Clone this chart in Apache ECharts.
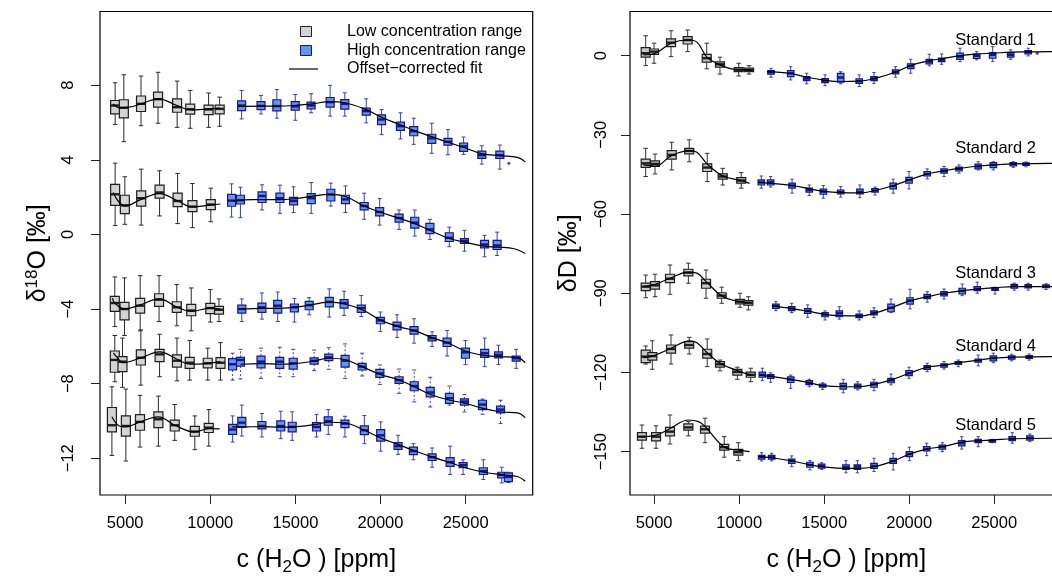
<!DOCTYPE html>
<html>
<head>
<meta charset="utf-8">
<script src="https://cdn.jsdelivr.net/npm/echarts@6/dist/echarts.min.js"></script>
<style>
  html, body { margin: 0; padding: 0; background: #fff; }
  #chart { width: 1052px; height: 576px; }
</style>
</head>
<body>
<div id="chart"></div>
<script>
// box rows: [c(H2O) ppm, lower whisker, Q1, median, Q3, upper whisker]
// ---- delta 18O panel ----
const d18oLow1 = [[4410,5.89,6.46,6.91,7.18,8.13],[4920,4.97,6.25,6.79,7.22,8.56],[5930,5.83,6.59,7.00,7.42,8.49],[6930,5.96,6.82,7.25,7.63,8.69],[8050,5.74,6.55,6.82,7.27,8.22],[8820,5.69,6.45,6.71,6.98,7.72],[9900,5.74,6.42,6.70,6.93,7.58],[10550,5.80,6.46,6.73,6.93,7.36]]
const d18oHigh1 = [[11840,6.19,6.64,6.91,7.16,7.72],[12980,6.46,6.69,6.89,7.12,7.45],[13910,6.23,6.62,6.88,7.22,7.77],[14990,6.12,6.66,6.86,7.12,7.50],[15920,6.52,6.73,6.91,7.09,7.54],[17040,6.34,6.82,7.09,7.34,7.99],[17900,6.34,6.72,7.00,7.23,7.59],[19160,5.98,6.39,6.61,6.77,7.27],[20060,5.35,5.89,6.16,6.41,6.69],[21170,5.12,5.58,5.80,6.02,6.52],[21950,4.83,5.29,5.53,5.78,6.23],[23010,4.35,4.88,5.15,5.37,5.96],[23960,4.27,4.79,4.97,5.15,5.62],[24880,4.29,4.45,4.72,4.90,5.22],[25950,3.77,4.08,4.25,4.47,4.75],[27010,3.50,4.08,4.25,4.47,4.79]]
const d18oLow2 = [[4410,0.48,1.56,2.15,2.68,3.82],[4980,0.54,1.11,1.56,2.10,3.09],[5940,0.50,1.52,1.94,2.33,3.50],[7020,0.99,1.94,2.25,2.64,3.41],[8080,0.58,1.49,1.79,2.21,3.27],[8950,0.36,1.22,1.49,1.81,2.73],[10030,0.68,1.33,1.60,1.87,2.48]]
const d18oHigh2 = [[11250,0.93,1.51,1.81,2.15,2.71],[11770,0.90,1.63,1.83,2.10,2.53],[13040,1.31,1.71,2.06,2.28,2.66],[14090,1.13,1.71,1.94,2.21,2.64],[14890,1.17,1.58,1.79,1.99,2.55],[15930,1.13,1.65,1.94,2.19,2.78],[17080,1.52,1.79,2.14,2.42,2.75],[17940,1.17,1.65,1.88,2.10,2.60],[19040,0.81,1.31,1.52,1.71,2.21],[19950,0.50,0.99,1.20,1.44,1.92],[21090,0.27,0.66,0.88,1.09,1.31],[22010,-0.09,0.34,0.63,0.92,1.31],[22900,-0.27,0.04,0.27,0.59,0.81],[24040,-0.66,-0.38,-0.18,0.09,0.39],[24930,-0.90,-0.48,-0.34,-0.22,0.22],[26110,-1.20,-0.72,-0.54,-0.32,-0.05],[26850,-1.13,-0.81,-0.59,-0.32,0.12]]
const d18oLow3 = [[4390,-4.94,-4.13,-3.68,-3.32,-2.28],[4960,-5.42,-4.58,-4.00,-3.64,-2.33],[5880,-5.17,-4.22,-3.82,-3.43,-2.21],[6990,-4.67,-3.86,-3.50,-3.18,-2.21],[8030,-4.90,-4.18,-3.91,-3.61,-2.69],[8880,-5.17,-4.36,-4.08,-3.75,-2.87],[10000,-4.70,-4.25,-3.95,-3.70,-2.96],[10510,-4.67,-4.27,-4.04,-3.86,-3.46]]
const d18oHigh3 = [[11850,-4.67,-4.22,-4.00,-3.79,-3.46],[13030,-4.54,-4.18,-3.91,-3.68,-3.14],[13960,-4.67,-4.22,-3.82,-3.54,-3.09],[14940,-4.70,-4.15,-3.91,-3.73,-3.43],[15810,-4.31,-4.04,-3.79,-3.59,-3.39],[16990,-4.43,-3.89,-3.62,-3.38,-2.92],[17860,-4.35,-3.95,-3.68,-3.50,-3.05],[18870,-4.40,-4.18,-3.95,-3.79,-3.28],[19990,-5.21,-4.79,-4.61,-4.45,-4.16],[20970,-5.53,-5.12,-4.90,-4.70,-4.31],[21970,-5.83,-5.35,-5.15,-4.94,-4.52],[23030,-6.01,-5.71,-5.56,-5.42,-5.22],[23910,-6.52,-6.01,-5.80,-5.56,-5.15],[24990,-6.98,-6.64,-6.32,-6.10,-5.69],[26120,-7.09,-6.59,-6.37,-6.16,-5.56],[26930,-6.98,-6.62,-6.46,-6.30,-5.94],[27970,-7.18,-6.79,-6.64,-6.52,-6.16]]
const d18oLow4 = [[4390,-7.90,-7.39,-6.73,-6.25,-5.42],[4840,-8.20,-7.36,-6.82,-6.55,-5.56],[5920,-8.08,-7.00,-6.61,-6.19,-5.12],[7020,-7.63,-6.82,-6.43,-6.16,-5.35],[8040,-7.85,-7.12,-6.77,-6.46,-5.56],[8790,-7.81,-7.18,-6.88,-6.59,-5.69],[9850,-7.81,-7.15,-6.91,-6.64,-6.10],[10600,-7.81,-7.18,-6.88,-6.61,-5.80]]
const d18oHigh4 = [[11310,-7.81,-7.27,-6.96,-6.66,-6.37],[11770,-7.75,-7.06,-6.73,-6.59,-6.16],[12980,-7.72,-7.15,-6.82,-6.52,-6.10],[14080,-7.63,-7.18,-6.82,-6.59,-6.05],[14870,-7.63,-7.22,-6.91,-6.64,-6.16],[16100,-7.30,-6.95,-6.78,-6.62,-6.20],[16960,-7.23,-6.77,-6.59,-6.42,-6.07],[17920,-7.72,-7.12,-6.77,-6.48,-5.87],[18920,-7.59,-7.27,-7.09,-6.91,-6.37],[19960,-8.04,-7.66,-7.45,-7.23,-7.00],[21090,-8.52,-7.99,-7.81,-7.63,-7.22],[21980,-8.98,-8.38,-8.13,-7.90,-7.27],[22920,-9.25,-8.71,-8.47,-8.20,-7.66],[24050,-9.15,-9.06,-8.78,-8.52,-8.13],[24930,-9.52,-9.15,-8.96,-8.82,-8.58],[25990,-9.64,-9.39,-9.12,-8.89,-8.83],[27050,-10.14,-9.57,-9.39,-9.21,-8.89]]
const d18oLow5 = [[4220,-11.85,-10.59,-10.23,-9.28,-8.17],[5040,-12.15,-10.81,-10.27,-9.73,-8.29],[5870,-11.40,-10.50,-10.05,-9.66,-8.63],[6950,-11.35,-10.36,-9.91,-9.51,-8.67],[7910,-11.04,-10.54,-10.23,-9.96,-9.12],[9090,-11.54,-10.82,-10.57,-10.29,-9.73],[9910,-11.35,-10.62,-10.36,-10.13,-9.39]]
const d18oHigh5 = [[11310,-11.13,-10.72,-10.46,-10.18,-9.73],[11850,-10.81,-10.35,-10.09,-9.81,-9.15],[13030,-10.86,-10.43,-10.27,-10.03,-9.60],[14140,-10.95,-10.54,-10.27,-10.00,-9.48],[14810,-11.04,-10.59,-10.32,-10.07,-9.51],[16240,-10.86,-10.54,-10.32,-10.09,-9.65],[16930,-10.72,-10.23,-10.00,-9.78,-9.39],[17910,-10.86,-10.36,-10.14,-9.96,-9.75],[19050,-11.22,-10.73,-10.50,-10.26,-9.71],[20010,-11.62,-11.08,-10.77,-10.46,-10.05],[21030,-11.79,-11.52,-11.35,-11.16,-10.77],[21930,-12.08,-11.81,-11.62,-11.40,-11.22],[23030,-12.48,-12.12,-11.94,-11.76,-11.45],[24090,-12.87,-12.44,-12.21,-11.97,-11.35],[24850,-12.87,-12.51,-12.37,-12.23,-12.08],[26040,-13.14,-12.87,-12.69,-12.51,-12.08],[27120,-13.32,-13.05,-12.89,-12.75,-12.48],[27510,-13.30,-13.25,-13.00,-12.78,-12.75]]
const d18oOutliers = [[27540,3.82]]

// fitted curves: [ppm, value]
const d18oFitLow1 = [[4290,7.0],[4650,6.79],[5240,6.82],[5930,7.0],[6930,7.27],[8050,6.91],[8820,6.68],[9900,6.73],[10550,6.77]]
const d18oFitHigh1 = [[11630,6.86],[13000,6.88],[14000,6.88],[15000,6.92],[16000,7.0],[17000,7.12],[17900,7.06],[19160,6.69],[20060,6.28],[21170,5.87],[21950,5.58],[23010,5.24],[23960,4.94],[24880,4.67],[25950,4.33],[27010,4.22],[28050,4.13],[28500,3.89]]
const d18oFitLow2 = [[4290,2.25],[4650,1.71],[4980,1.52],[5940,1.88],[7020,2.19],[8090,1.79],[8950,1.47],[10030,1.58],[10590,1.63]]
const d18oFitHigh2 = [[11330,1.80],[12500,1.86],[14000,1.86],[15000,1.92],[16000,2.05],[17000,2.15],[17940,2.03],[19040,1.52],[19950,1.2],[21090,0.86],[22010,0.58],[22900,0.22],[24040,-0.22],[24930,-0.41],[26110,-0.63],[26860,-0.68],[27860,-0.77],[28510,-1.02]]
const d18oFitLow3 = [[4250,-3.41],[4390,-3.68],[4960,-4.0],[5890,-3.77],[6990,-3.46],[8030,-3.89],[8880,-4.13],[10000,-3.95],[10590,-4.0]]
const d18oFitHigh3 = [[11830,-4.0],[13090,-3.96],[14010,-3.96],[14990,-3.9],[15860,-3.79],[16450,-3.68],[17040,-3.63],[17900,-3.73],[18920,-4.04],[20050,-4.61],[21030,-4.94],[22040,-5.17],[23100,-5.56],[23980,-5.83],[25060,-6.28],[26200,-6.5],[27010,-6.55],[28050,-6.61],[28500,-6.88]]
const d18oFitLow4 = [[4310,-6.37],[4650,-6.73],[4840,-6.88],[5930,-6.61],[7020,-6.3],[8050,-6.69],[8790,-6.96],[9860,-6.91],[10600,-6.82]]
const d18oFitHigh4 = [[11770,-6.96],[12990,-6.93],[14090,-6.96],[14870,-6.94],[16110,-6.79],[16950,-6.64],[17920,-6.72],[18920,-7.09],[19970,-7.5],[21110,-7.81],[21990,-8.17],[22940,-8.58],[24080,-8.89],[24960,-9.05],[26020,-9.33],[27090,-9.52],[28050,-9.57],[28500,-9.82]]
const d18oFitLow5 = [[4220,-9.78],[4650,-10.27],[5040,-10.32],[5870,-10.05],[6950,-9.78],[7910,-10.23],[9090,-10.59],[9920,-10.41],[10550,-10.43]]
const d18oFitHigh5 = [[11290,-10.32],[11840,-10.32],[13020,-10.3],[14140,-10.33],[14810,-10.32],[16250,-10.18],[16940,-10.07],[17920,-10.11],[19060,-10.5],[20030,-10.92],[21050,-11.27],[21950,-11.58],[23060,-11.94],[24120,-12.24],[24880,-12.48],[26080,-12.75],[27170,-12.89],[28050,-12.98],[28500,-13.23]]

// ---- delta D panel ----
const ddLow1 = [[4500,-3.8,-0.6,0.9,3.0,7.5],[4990,-2.9,0.5,1.5,2.5,4.7],[5990,-0.4,3.4,4.9,6.3,9.4],[6970,1.5,4.4,5.9,7.2,9.7],[8090,-5.0,-2.5,-1.0,0.5,4.7],[8870,-7.0,-4.4,-3.3,-2.4,-0.6],[9970,-7.7,-6.1,-5.3,-4.5,-2.9],[10580,-7.0,-6.1,-5.4,-4.7,-3.8]]
const ddHigh1 = [[11870,-8.2,-7.0,-6.3,-5.7,-4.8],[13030,-9.2,-8.0,-6.7,-5.7,-4.2],[13970,-10.7,-9.5,-8.7,-8.0,-6.7],[15050,-11.4,-10.2,-9.5,-8.7,-7.3],[15970,-10.7,-10.1,-8.3,-6.7,-6.1],[17060,-11.7,-10.5,-9.7,-8.8,-7.3],[17930,-10.5,-9.5,-8.7,-8.0,-6.4],[19200,-8.2,-6.9,-6.2,-5.4,-4.2],[20090,-6.7,-4.9,-4.0,-3.1,-1.4],[21180,-3.9,-3.1,-2.3,-1.4,0.5],[21910,-3.3,-2.3,-1.6,-0.9,0.6],[22990,-2.3,-1.4,-0.4,0.9,2.8],[23970,-1.6,-1.1,-0.1,0.6,1.5],[24910,-2.3,-1.0,0.3,1.1,3.4],[25970,-1.4,-0.6,0.3,1.1,2.2],[27000,-0.1,0.6,1.3,1.9,2.8]]
const ddLow2 = [[4500,-45.8,-42.3,-40.8,-39.2,-35.1],[5050,-44.8,-42.0,-41.0,-39.9,-37.3],[6030,-43.3,-39.2,-37.6,-36.0,-32.8],[7060,-40.2,-37.2,-36.1,-35.1,-31.9],[8120,-47.7,-43.9,-42.4,-41.0,-37.0],[9030,-49.0,-46.8,-45.8,-44.8,-42.7],[10120,-50.2,-48.3,-47.3,-46.2,-44.3]]
const ddHigh2 = [[11300,-50.2,-49.0,-48.0,-47.1,-45.6],[11850,-49.8,-49.0,-48.0,-47.1,-45.8],[13110,-52.1,-50.2,-49.2,-48.3,-46.8],[14120,-53.0,-51.7,-50.9,-50.2,-49.0],[14950,-54.0,-52.5,-51.5,-50.6,-49.2],[15970,-53.6,-52.4,-51.6,-50.9,-49.6],[17100,-53.8,-52.4,-51.6,-50.6,-49.0],[17990,-52.8,-51.7,-51.1,-50.4,-49.8],[19060,-52.1,-50.5,-49.4,-48.3,-46.8],[19990,-50.5,-48.3,-47.1,-46.1,-43.9],[21060,-46.7,-45.6,-44.8,-43.9,-42.9],[22050,-45.8,-44.5,-43.7,-42.9,-42.0],[22930,-44.5,-43.7,-42.9,-42.2,-41.4],[24060,-43.3,-42.9,-42.0,-41.1,-40.2],[24950,-43.3,-42.4,-41.4,-40.5,-40.2],[26120,-42.3,-41.8,-41.1,-40.5,-40.2],[26870,-42.1,-41.6,-41.1,-40.6,-40.3]]
const ddLow3 = [[4500,-91.7,-89.0,-87.5,-86.2,-83.1],[5050,-91.3,-88.4,-87.0,-85.6,-82.8],[5930,-90.4,-86.0,-84.5,-82.8,-79.3],[7010,-86.2,-83.4,-82.2,-80.9,-78.6],[8050,-91.9,-88.1,-86.2,-84.7,-81.2],[8970,-93.8,-91.9,-90.9,-89.8,-87.7],[10050,-95.3,-94.0,-93.2,-92.3,-90.0],[10540,-96.3,-94.5,-93.6,-92.8,-91.3]]
const ddHigh3 = [[12160,-96.6,-95.7,-94.8,-94.1,-93.2],[13090,-97.3,-96.6,-95.8,-95.1,-93.8],[14030,-99.1,-97.6,-96.7,-95.8,-94.4],[15050,-100.1,-98.9,-98.1,-97.3,-96.7],[15890,-99.8,-98.9,-97.6,-96.7,-95.1],[17060,-100.1,-99.2,-98.5,-97.9,-96.7],[17930,-99.2,-98.2,-97.3,-96.7,-95.5],[18930,-97.3,-97.0,-95.5,-94.1,-92.2],[20050,-95.9,-94.1,-92.8,-91.7,-88.5],[21060,-93.4,-92.0,-91.3,-90.4,-89.4],[22050,-92.2,-91.0,-90.2,-89.4,-88.4],[23120,-90.9,-90.2,-89.1,-88.1,-86.5],[24000,-90.0,-89.0,-88.3,-87.5,-85.8],[25050,-90.3,-88.9,-88.4,-87.9,-87.7],[26180,-88.8,-88.1,-87.3,-86.6,-86.2],[27000,-88.8,-88.0,-87.3,-86.7,-86.2],[28050,-88.6,-87.9,-87.3,-86.8,-86.4]]
const ddLow4 = [[4500,-116.8,-116.3,-114.0,-111.5,-110.0],[4890,-118.8,-115.3,-113.8,-112.5,-108.0],[5990,-116.8,-112.7,-111.1,-109.6,-105.8],[7060,-113.0,-110.8,-109.6,-108.3,-106.7],[8120,-117.8,-114.6,-113.0,-111.2,-107.3],[8870,-119.4,-118.0,-116.9,-115.9,-115.3],[9890,-122.6,-121.0,-119.8,-118.8,-118.0],[10680,-123.5,-121.8,-120.9,-119.9,-118.4]]
const ddHigh4 = [[11360,-123.1,-121.8,-120.9,-119.9,-118.4],[11850,-123.7,-122.2,-121.4,-120.8,-120.1],[13030,-126.0,-123.8,-122.7,-121.7,-121.0],[14120,-125.4,-124.6,-123.9,-123.1,-122.6],[14910,-126.4,-125.6,-125.0,-124.4,-123.9],[16120,-127.7,-126.3,-125.1,-124.1,-122.6],[16970,-126.6,-125.9,-125.1,-124.4,-123.5],[17930,-126.9,-125.6,-124.5,-123.7,-122.6],[18930,-124.7,-123.9,-123.0,-122.2,-120.6],[19990,-122.2,-121.2,-120.3,-119.3,-118.0],[21060,-119.7,-118.8,-118.0,-117.4,-116.5],[22050,-118.7,-118.0,-117.3,-116.7,-115.9],[22890,-117.8,-116.9,-116.3,-115.9,-115.3],[24060,-117.5,-116.1,-115.5,-114.9,-113.4],[24950,-116.3,-115.6,-114.6,-113.7,-112.7],[26030,-115.6,-115.0,-114.4,-113.7,-113.1],[27060,-115.3,-114.7,-114.1,-113.6,-113.0]]
const ddLow5 = [[4280,-148.7,-145.6,-144.3,-142.8,-139.9],[5110,-148.7,-145.9,-144.3,-142.8,-140.2],[5930,-147.1,-144.0,-142.4,-140.8,-136.1],[7010,-144.0,-141.8,-140.8,-139.5,-138.6],[7990,-146.6,-143.0,-141.5,-140.3,-137.3],[9120,-152.1,-149.4,-148.3,-147.2,-144.3],[9950,-153.4,-151.3,-150.2,-149.1,-146.6]]
const ddHigh5 = [[11320,-153.5,-152.8,-152.0,-151.4,-150.4],[11910,-153.5,-152.8,-152.1,-151.4,-150.6],[13090,-155.7,-154.4,-153.5,-152.8,-151.6],[14160,-156.9,-155.9,-155.0,-154.0,-153.4],[14850,-156.7,-156.2,-155.4,-154.7,-154.2],[16280,-158.0,-156.7,-155.9,-155.0,-153.4],[16950,-158.0,-156.7,-155.6,-155.0,-153.4],[17930,-157.5,-156.3,-155.4,-154.4,-152.5],[19060,-156.9,-154.4,-153.5,-152.5,-150.6],[20010,-153.4,-151.9,-150.9,-150.0,-148.3],[21030,-151.5,-149.7,-149.0,-148.1,-146.8],[21950,-150.0,-149.0,-148.1,-147.5,-146.6],[23090,-149.0,-147.8,-146.8,-145.8,-144.3],[24060,-148.1,-146.6,-145.9,-145.3,-144.3],[24890,-146.6,-146.4,-145.9,-145.5,-145.3],[26060,-146.8,-145.8,-145.1,-144.3,-142.8],[27100,-146.2,-145.6,-144.8,-144.0,-143.3]]
const ddOutliers = [[27530,0.9]]

const ddFitLow1 = [[4370,0.3],[5060,0.9],[6000,4.7],[6980,5.9],[7510,5.1],[8100,-0.6],[8880,-3.5],[9980,-5.4],[10750,-5.4]]
const ddFitHigh1 = [[11630,-6.1],[13040,-6.8],[14000,-8.2],[15000,-9.3],[16000,-9.8],[17000,-9.7],[17940,-8.7],[19220,-6.2],[20100,-3.7],[21190,-1.9],[21920,-1.2],[23000,0],[23980,0.6],[24920,0.9],[25980,1.3],[27020,1.4],[28290,1.5],[29100,1.5]]
const ddFitLow2 = [[4370,-41.4],[5060,-41.8],[6040,-37.8],[7080,-36.0],[7510,-36.6],[8140,-41.2],[9040,-45.6],[10140,-47.4],[10610,-48.4]]
const ddFitHigh2 = [[11140,-48.0],[13120,-49.2],[14140,-50.5],[14960,-51.4],[15980,-51.9],[17120,-52.0],[18000,-51.1],[19080,-49.2],[20000,-47.1],[21080,-44.8],[22060,-43.6],[22940,-42.7],[24080,-41.8],[24960,-41.4],[26140,-41.0],[28290,-40.8],[29100,-40.8]]
const ddFitLow3 = [[4370,-87.5],[5060,-86.6],[5940,-84.3],[7020,-82.0],[7510,-82.4],[8060,-85.6],[8980,-91.0],[10060,-93.2],[10610,-93.6]]
const ddFitHigh3 = [[11920,-94.8],[13100,-95.8],[14040,-96.8],[15060,-98.0],[15900,-98.5],[17080,-98.6],[17940,-97.6],[18940,-95.5],[20060,-92.8],[21080,-91.3],[22060,-90.0],[23140,-89.0],[24020,-88.4],[25060,-87.9],[26190,-87.5],[28290,-87.5],[29100,-87.5]]
const ddFitLow4 = [[4370,-114.4],[4900,-113.8],[6000,-110.8],[7080,-108.0],[7510,-108.7],[8140,-112.7],[8880,-116.5],[9900,-119.3],[10690,-121.0]]
const ddFitHigh4 = [[11190,-121.0],[11860,-121.5],[13040,-122.6],[14140,-123.9],[14920,-125.0],[16140,-125.4],[16980,-125.4],[17940,-124.5],[18940,-122.8],[20000,-120.3],[21080,-118.0],[22060,-117.2],[22900,-116.3],[24080,-115.3],[24960,-114.6],[26040,-114.2],[28290,-114.0],[29100,-114.0]]
const ddFitLow5 = [[4140,-144.3],[5120,-143.7],[5940,-141.2],[7020,-138.0],[7610,-138.6],[8000,-140.5],[9140,-148.3],[9960,-149.4],[10610,-150.0]]
const ddFitHigh5 = [[11140,-151.9],[11920,-152.3],[13100,-153.5],[14180,-155.0],[14860,-155.7],[16290,-156.3],[16960,-156.3],[17940,-155.7],[19080,-153.5],[20020,-150.9],[21040,-149.0],[21960,-148.1],[23100,-146.4],[24080,-145.8],[24900,-145.6],[26080,-145.1],[28290,-144.9],[29100,-144.9]]

const xTicks = [5000, 10000, 15000, 20000, 25000]
const d18oTicks = [-12, -8, -4, 0, 4, 8]
const ddTicks = [-150, -120, -90, -60, -30, 0]
const standardNames = ['Standard 1', 'Standard 2', 'Standard 3', 'Standard 4', 'Standard 5']
const legendNames = ['Low concentration range', 'High concentration range', 'Offset\u2212corrected fit']

const FONT = '"Liberation Sans", Arial, Helvetica, sans-serif'
const minus = v => String(v).replace('-', '\u2212')

// looks
const lowL = { fill: '#d3d3d3', edge: '#1e1e1e', whisker: '#2a2a2a', w: 9 }
const highL = { fill: '#6495ed', edge: '#16168a', whisker: '#3344bb', w: 8 }
const lowR = { fill: '#c8c8c8', edge: '#1e1e1e', whisker: '#333333', w: 9 }
const highR = { fill: '#6495ed', edge: '#16168a', whisker: '#3344bb', w: 6.5 }

function drawBox(api, look) {
  const x = api.value(0)
  const lo = api.coord([x, api.value(1)])
  const q1 = api.coord([x, api.value(2)])
  const md = api.coord([x, api.value(3)])
  const q3 = api.coord([x, api.value(4)])
  const hi = api.coord([x, api.value(5)])
  const cx = md[0]
  const hw = look.w / 2
  const cap = look.w / 4
  const wStyle = { stroke: look.whisker, lineWidth: 1, lineDash: look.dash || null }
  const cStyle = { stroke: look.whisker, lineWidth: 1 }
  return {
    type: 'group',
    children: [
      { type: 'line', shape: { x1: cx, y1: q1[1], x2: cx, y2: lo[1] }, style: wStyle },
      { type: 'line', shape: { x1: cx, y1: q3[1], x2: cx, y2: hi[1] }, style: wStyle },
      { type: 'line', shape: { x1: cx - cap, y1: lo[1], x2: cx + cap, y2: lo[1] }, style: cStyle },
      { type: 'line', shape: { x1: cx - cap, y1: hi[1], x2: cx + cap, y2: hi[1] }, style: cStyle },
      { type: 'rect', shape: { x: cx - hw, y: q3[1], width: look.w, height: q1[1] - q3[1] },
        style: { fill: look.fill, stroke: look.edge, lineWidth: 1.2 } },
      { type: 'line', shape: { x1: cx - hw, y1: md[1], x2: cx + hw, y2: md[1] },
        style: { stroke: look.edge, lineWidth: 2.4 } }
    ]
  }
}

function boxSeries(data, idx, look) {
  return {
    type: 'custom', xAxisIndex: idx, yAxisIndex: idx, data: data,
    encode: { x: 0, y: [1, 2, 3, 4, 5] }, silent: true, z: 2,
    renderItem: (params, api) => drawBox(api, look)
  }
}

function fitSeries(data, idx) {
  return {
    type: 'line', xAxisIndex: idx, yAxisIndex: idx, data: data,
    showSymbol: false, smooth: 0.4, silent: true, z: 5,
    lineStyle: { color: '#000', width: 1.2 }
  }
}

const series = []
;[d18oLow1, d18oLow2, d18oLow3, d18oLow4, d18oLow5].forEach(d => series.push(boxSeries(d, 0, lowL)))
;[d18oHigh1, d18oHigh2, d18oHigh3, d18oHigh5].forEach(d => series.push(boxSeries(d, 0, highL)))
series.push(boxSeries(d18oHigh4, 0, Object.assign({}, highL, { dash: [2, 2] })))
;[ddLow1, ddLow2, ddLow3, ddLow4, ddLow5].forEach(d => series.push(boxSeries(d, 1, lowR)))
;[ddHigh1, ddHigh2, ddHigh3, ddHigh4, ddHigh5].forEach(d => series.push(boxSeries(d, 1, highR)))
;[d18oFitLow1, d18oFitHigh1, d18oFitLow2, d18oFitHigh2, d18oFitLow3, d18oFitHigh3,
  d18oFitLow4, d18oFitHigh4, d18oFitLow5, d18oFitHigh5].forEach(d => series.push(fitSeries(d, 0)))
;[ddFitLow1, ddFitHigh1, ddFitLow2, ddFitHigh2, ddFitLow3, ddFitHigh3,
  ddFitLow4, ddFitHigh4, ddFitLow5, ddFitHigh5].forEach(d => series.push(fitSeries(d, 1)))
series.push({ type: 'scatter', xAxisIndex: 0, yAxisIndex: 0, data: d18oOutliers, symbolSize: 3,
  itemStyle: { color: '#16168a' }, silent: true, z: 4 })
series.push({ type: 'scatter', xAxisIndex: 1, yAxisIndex: 1, data: ddOutliers, symbolSize: 3,
  itemStyle: { color: '#16168a' }, silent: true, z: 4 })

function xAxisOpt(idx, min, max) {
  return {
    type: 'value', gridIndex: idx, min: min, max: max, position: 'bottom',
    name: '{a|c (H}{s|2}{a|O ) [ppm]}', nameLocation: 'middle', nameGap: 50,
    nameTextStyle: { rich: {
      a: { fontSize: 25, fontFamily: FONT, color: '#000' },
      s: { fontSize: 17, fontFamily: FONT, color: '#000', verticalAlign: 'bottom', padding: [14, 0, 0, 0] }
    } },
    axisLine: { show: false, onZero: false },
    axisTick: { show: true, length: 9, interval: 0, customValues: xTicks, lineStyle: { color: '#222' } },
    axisLabel: { customValues: xTicks, interval: 0, fontSize: 16.5, fontFamily: FONT, color: '#000', margin: 20,
      formatter: v => String(v) },
    splitLine: { show: false }
  }
}

function yAxisOpt(idx, min, max, ticks, name, gap, margin) {
  return {
    type: 'value', gridIndex: idx, min: min, max: max, position: 'left',
    name: name, nameLocation: 'middle', nameRotate: 90, nameGap: gap,
    nameTextStyle: { rich: {
      a: { fontSize: 25, fontFamily: FONT, color: '#000' },
      s: { fontSize: 17, fontFamily: FONT, color: '#000', verticalAlign: 'top', padding: [0, 0, 12, 0] }
    } },
    axisLine: { show: false, onZero: false },
    axisTick: { show: true, length: 9, interval: 0, customValues: ticks, lineStyle: { color: '#222' } },
    axisLabel: { customValues: ticks, interval: 0, rotate: 90, fontSize: 16.5, fontFamily: FONT, color: '#000',
      margin: margin, formatter: minus },
    splitLine: { show: false }
  }
}

const legendGraphic = [
  { type: 'rect', left: 300, top: 26, shape: { width: 11, height: 10 },
    style: { fill: '#d3d3d3', stroke: '#222', lineWidth: 1 } },
  { type: 'rect', left: 300, top: 45, shape: { width: 11, height: 10 },
    style: { fill: '#6495ed', stroke: '#16168a', lineWidth: 1 } },
  { type: 'line', shape: { x1: 289, y1: 69, x2: 318, y2: 69 }, style: { stroke: '#000', lineWidth: 1.2 } }
].concat(legendNames.map((t, i) => ({
  type: 'text', x: 347, y: 31.5 + i * 18.7,
  style: { text: t, font: '16px ' + FONT, fill: '#000', textVerticalAlign: 'middle' }
})))

const standardY = [40, 148, 273, 346, 425]
const standardGraphic = standardNames.map((t, i) => ({
  type: 'text', x: 1036, y: standardY[i],
  style: { text: t, font: '16.5px ' + FONT, fill: '#000', textAlign: 'right', textVerticalAlign: 'middle' }
}))

const gridBase = { top: 11.5, width: 432.7, height: 483.5, show: true, borderColor: '#000', borderWidth: 1.2,
  backgroundColor: 'transparent', outerBoundsMode: 'none', containLabel: false }

const chart = echarts.init(document.getElementById('chart'), null, { renderer: 'canvas' })
chart.setOption({
  backgroundColor: '#fff',
  animation: false,
  textStyle: { fontFamily: FONT },
  grid: [
    Object.assign({ left: 100 }, gridBase),
    Object.assign({ left: 630 }, gridBase)
  ],
  xAxis: [xAxisOpt(0, 3520, 28940), xAxisOpt(1, 3577, 29030)],
  yAxis: [
    yAxisOpt(0, -13.97, 11.95, d18oTicks, '{a|\u03b4}{s|18}{a|O [\u2030]}', 47, 23),
    yAxisOpt(1, -166.4, 16.7, ddTicks, '{a|\u03b4D [\u2030]}', 48, 20)
  ],
  graphic: legendGraphic.concat(standardGraphic),
  series: series
})
</script>
</body>
</html>
